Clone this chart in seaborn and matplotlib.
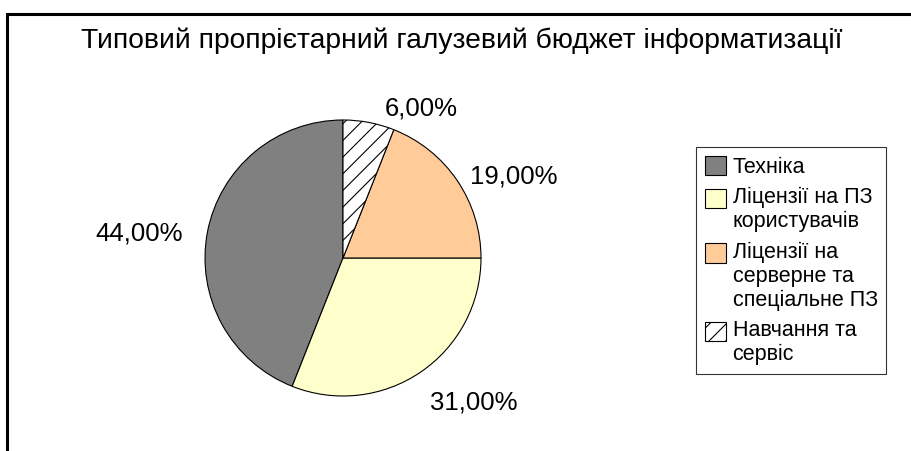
import matplotlib.pyplot as plt
import seaborn as sns
import numpy as np
from matplotlib.patches import Rectangle
from matplotlib.legend_handler import HandlerPatch

# data
categories = ["Техніка", "Ліцензії на ПЗ\nкористувачів",
              "Ліцензії на\nсерверне та\nспеціальне ПЗ", "Навчання та\nсервіс"]
shares = [44, 31, 19, 6]
pct_labels = ["44,00%", "31,00%", "19,00%", "6,00%"]
colors = ["#808080", "#FFFFCC", "#FFCC99", "#FFFFFF"]
hatches = [None, None, None, "//"]

sns.set_theme(style="white")
plt.rcParams["font.family"] = ["Liberation Sans", "DejaVu Sans"]
plt.rcParams["text.color"] = "black"
plt.rcParams["hatch.linewidth"] = 0.8

fig = plt.figure(figsize=(9.12, 4.51), dpi=100)
fig.patch.set_facecolor("white")

# outer chart frame (runs off right and bottom edges)
fig.patches.append(Rectangle((7.5 / 912, -0.2), 1.2, 1 - 13.5 / 451 + 0.2,
                             transform=fig.transFigure, fill=False,
                             edgecolor="black", lw=2.2))

fig.text(462 / 912, 1 - 48 / 451, "Типовий пропрієтарний галузевий бюджет інформатизації",
         ha="center", va="baseline", fontsize=20.3, color="black")

ax = fig.add_axes([205 / 912, 1 - 396 / 451, 276 / 912, 276 / 451])
wedges, _ = ax.pie(shares, colors=colors, startangle=90, counterclock=True,
                   wedgeprops=dict(edgecolor="black", linewidth=0.8))
for w, h in zip(wedges, hatches):
    if h:
        w.set_hatch(h)
ax.set_xlim(-1, 1)
ax.set_ylim(-1, 1)
ax.set_aspect("equal")
ax.axis("off")

# percentage labels outside the slices (excel-like "best fit" nudges)
label_dist = [1.18, 1.27, 1.08, 1.1]
nudges = [(0, -0.043), (-0.08, 0), (0.03, -0.02), (0.094, 0)]
for w, lab, d, (nx, ny) in zip(wedges, pct_labels, label_dist, nudges):
    ang = np.deg2rad((w.theta1 + w.theta2) / 2)
    x, y = d * np.cos(ang), d * np.sin(ang)
    ax.text(x + nx, y + ny, lab, ha="left" if x > 0 else "right", va="center",
            fontsize=18.5, color="black", clip_on=False)

# legend: square swatch aligned with the first line of each entry
leg_fs = 15.5
line_sp = 1.17
line_pt = line_sp * 0.95 * leg_fs
nlines = {w: c.count("\n") + 1 for w, c in zip(wedges, categories)}


def first_line_patch(legend, orig_handle, xdescent, ydescent, width, height, fontsize):
    shift = (nlines[orig_handle] - 1) / 2 * line_pt
    return Rectangle((-xdescent, -ydescent + shift), width, height)


leg = fig.legend(wedges, categories, loc="upper left",
                 bbox_to_anchor=(696 / 912, 1 - 147 / 451),
                 fontsize=leg_fs, frameon=True, fancybox=False,
                 handlelength=1.0, handleheight=1.0, handletextpad=0.3,
                 labelspacing=0.45, borderpad=0.4, borderaxespad=0,
                 handler_map={w: HandlerPatch(patch_func=first_line_patch) for w in wedges})
leg.get_frame().set_edgecolor("black")
leg.get_frame().set_linewidth(0.8)
for t in leg.get_texts():
    t.set_linespacing(line_sp)
    t.set_color("black")

fig.savefig("out.png", dpi=100, facecolor="white")
